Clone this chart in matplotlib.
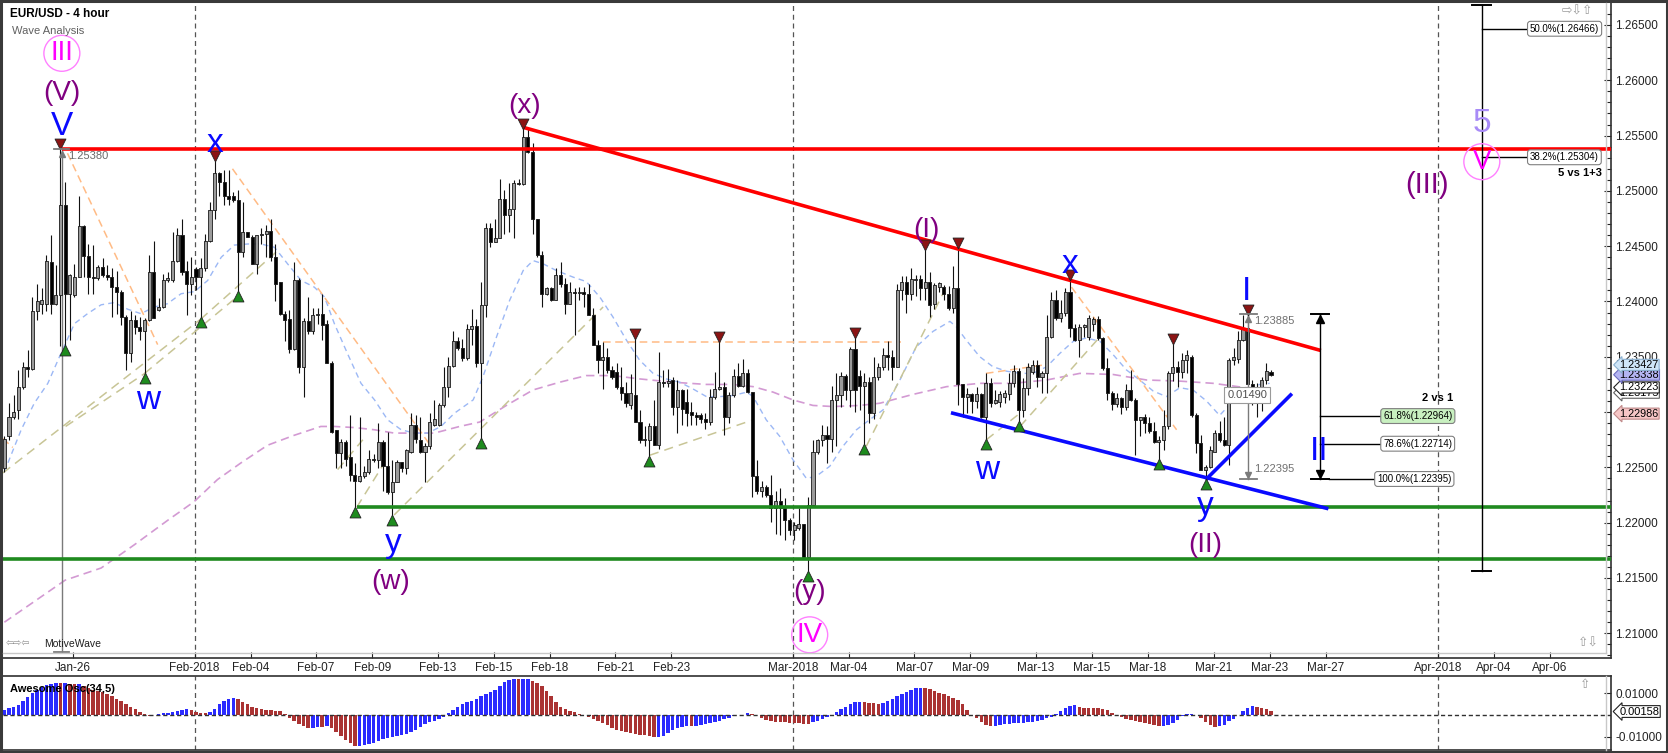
import matplotlib
matplotlib.use("Agg")
import matplotlib.pyplot as plt
import numpy as np
from matplotlib.collections import LineCollection, PolyCollection
from matplotlib.lines import Line2D
from matplotlib.patches import Rectangle
from matplotlib.transforms import blended_transform_factory

plt.rcParams['font.family'] = ['Liberation Sans', 'DejaVu Sans']

# ======================= DATA =======================
# bar index 0 = first 4-hour bar of Thu 1 Feb 2018
first_bar = -41

opens = [
    1.2249, 1.2278, 1.2296, 1.2302, 1.2323, 1.2341, 1.2339, 1.2391, 1.2398, 1.2398,
    1.2436, 1.2398, 1.2406, 1.2487, 1.2407, 1.2406, 1.2422, 1.2468, 1.2441, 1.2422,
    1.2421, 1.2431, 1.2424, 1.2422, 1.2413, 1.2409, 1.2386, 1.2353, 1.2383, 1.2377,
    1.2373, 1.2383, 1.2427, 1.2392, 1.2395, 1.2419, 1.2419, 1.2437, 1.2460, 1.2428,
    1.2416, 1.2429, 1.2422, 1.2430, 1.2455, 1.2483, 1.2516, 1.2508, 1.2495, 1.2495,
    1.2492, 1.2445, 1.2463, 1.2458, 1.2434, 1.2460, 1.2461, 1.2464, 1.2440, 1.2418,
    1.2389, 1.2384, 1.2357, 1.2419, 1.2341, 1.2382, 1.2373, 1.2388, 1.2389, 1.2380,
    1.2344, 1.2284, 1.2263, 1.2273, 1.2259, 1.2243, 1.2238, 1.2242, 1.2246, 1.2258,
    1.2257, 1.2273, 1.2251, 1.2228, 1.2237, 1.2255, 1.2249, 1.2264, 1.2288, 1.2275,
    1.2264, 1.2269, 1.2288, 1.2288, 1.2306, 1.2323, 1.2342, 1.2364, 1.2358, 1.2349,
    1.2375, 1.2378, 1.2344, 1.2397, 1.2466, 1.2454, 1.2457, 1.2493, 1.2478, 1.2484,
    1.2507, 1.2506, 1.2549, 1.2535, 1.2475, 1.2442, 1.2407, 1.2412, 1.2401, 1.2424,
    1.2416, 1.2398, 1.2409, 1.2408, 1.2409, 1.2407, 1.2388, 1.2361, 1.2347, 1.2350,
    1.2338, 1.2336, 1.2323, 1.2317, 1.2306, 1.2315, 1.2291, 1.2275, 1.2275, 1.2287,
    1.2270, 1.2327, 1.2326, 1.2329, 1.2305, 1.2320, 1.2309, 1.2300, 1.2297, 1.2297,
    1.2294, 1.2291, 1.2314, 1.2321, 1.2323, 1.2296, 1.2315, 1.2333, 1.2324, 1.2335,
    1.2318, 1.2242, 1.2229, 1.2232, 1.2225, 1.2213, 1.2220, 1.2213, 1.2202, 1.2193,
    1.2195, 1.2199, 1.2169, 1.2216, 1.2264, 1.2275, 1.2279, 1.2276, 1.2311, 1.2315,
    1.2333, 1.2320, 1.2357, 1.2333, 1.2324, 1.2327, 1.2299, 1.2332, 1.2341, 1.2352,
    1.2350, 1.2341, 1.2410, 1.2418, 1.2407, 1.2419, 1.2420, 1.2412, 1.2418, 1.2398,
    1.2413, 1.2413, 1.2407, 1.2394, 1.2412, 1.2325, 1.2314, 1.2316, 1.2310, 1.2316,
    1.2296, 1.2326, 1.2308, 1.2309, 1.2314, 1.2316, 1.2326, 1.2337, 1.2302, 1.2322,
    1.2336, 1.2343, 1.2332, 1.2335, 1.2368, 1.2401, 1.2385, 1.2390, 1.2409, 1.2376,
    1.2365, 1.2377, 1.2368, 1.2380, 1.2384, 1.2367, 1.2340, 1.2317, 1.2307, 1.2313,
    1.2305, 1.2320, 1.2311, 1.2293, 1.2296, 1.2290, 1.2283, 1.2273, 1.2275, 1.2287,
    1.2335, 1.2341, 1.2336, 1.2347, 1.2350, 1.2297, 1.2272, 1.2248, 1.2250, 1.2264,
    1.2281, 1.2275, 1.2270, 1.2347, 1.2348, 1.2365, 1.2376, 1.2325, 1.2322, 1.2323,
    1.2329, 1.2336,
]
highs = [
    1.2278, 1.2308, 1.2315, 1.2338, 1.2345, 1.2356, 1.2404, 1.2416, 1.2412, 1.2442,
    1.2460, 1.2433, 1.2538, 1.2508, 1.2425, 1.2434, 1.2495, 1.2469, 1.2452, 1.2451,
    1.2433, 1.2439, 1.2433, 1.2430, 1.2428, 1.2410, 1.2388, 1.2391, 1.2388, 1.2386,
    1.2385, 1.2442, 1.2455, 1.2403, 1.2425, 1.2427, 1.2463, 1.2466, 1.2475, 1.2437,
    1.2440, 1.2431, 1.2439, 1.2461, 1.2490, 1.2527, 1.2517, 1.2519, 1.2519, 1.2499,
    1.2501, 1.2490, 1.2463, 1.2460, 1.2460, 1.2466, 1.2469, 1.2475, 1.2452, 1.2418,
    1.2391, 1.2392, 1.2436, 1.2421, 1.2385, 1.2404, 1.2394, 1.2394, 1.2407, 1.2383,
    1.2346, 1.2284, 1.2276, 1.2275, 1.2297, 1.2254, 1.2296, 1.2251, 1.2266, 1.2262,
    1.2290, 1.2275, 1.2282, 1.2257, 1.2257, 1.2255, 1.2267, 1.2299, 1.2297, 1.2296,
    1.2272, 1.2299, 1.2311, 1.2308, 1.2341, 1.2350, 1.2373, 1.2368, 1.2366, 1.2380,
    1.2393, 1.2384, 1.2418, 1.2471, 1.2471, 1.2475, 1.2511, 1.2501, 1.2507, 1.2510,
    1.2511, 1.2556, 1.2556, 1.2543, 1.2475, 1.2446, 1.2413, 1.2413, 1.2430, 1.2436,
    1.2421, 1.2418, 1.2412, 1.2413, 1.2413, 1.2416, 1.2394, 1.2365, 1.2363, 1.2358,
    1.2342, 1.2344, 1.2341, 1.2327, 1.2334, 1.2366, 1.2302, 1.2287, 1.2290, 1.2311,
    1.2354, 1.2338, 1.2339, 1.2332, 1.2329, 1.2321, 1.2321, 1.2309, 1.2300, 1.2299,
    1.2299, 1.2321, 1.2336, 1.2364, 1.2327, 1.2318, 1.2339, 1.2344, 1.2348, 1.2339,
    1.2318, 1.2257, 1.2238, 1.2234, 1.2243, 1.2229, 1.2231, 1.2222, 1.2204, 1.2201,
    1.2213, 1.2199, 1.2223, 1.2275, 1.2276, 1.2288, 1.2287, 1.2324, 1.2335, 1.2336,
    1.2334, 1.2359, 1.2367, 1.2338, 1.2335, 1.2332, 1.2350, 1.2344, 1.2358, 1.2364,
    1.2356, 1.2416, 1.2423, 1.2423, 1.2430, 1.2424, 1.2424, 1.2447, 1.2427, 1.2417,
    1.2418, 1.2415, 1.2414, 1.2432, 1.2449, 1.2325, 1.2322, 1.2317, 1.2323, 1.2317,
    1.2335, 1.2331, 1.2320, 1.2319, 1.2320, 1.2335, 1.2343, 1.2340, 1.2331, 1.2344,
    1.2347, 1.2347, 1.2337, 1.2388, 1.2409, 1.2410, 1.2401, 1.2412, 1.2420, 1.2380,
    1.2380, 1.2380, 1.2388, 1.2386, 1.2387, 1.2368, 1.2349, 1.2319, 1.2317, 1.2314,
    1.2325, 1.2338, 1.2313, 1.2296, 1.2298, 1.2296, 1.2291, 1.2278, 1.2302, 1.2337,
    1.2362, 1.2346, 1.2353, 1.2356, 1.2352, 1.2299, 1.2279, 1.2252, 1.2269, 1.2284,
    1.2292, 1.2296, 1.2349, 1.2358, 1.2373, 1.2388, 1.23885, 1.2329, 1.2326, 1.2332,
    1.2344, 1.2338,
]
lows = [
    1.2246, 1.2275, 1.2294, 1.2294, 1.2321, 1.2332, 1.2338, 1.2383, 1.2389, 1.2391,
    1.2389, 1.2397, 1.2360, 1.2360, 1.2365, 1.2404, 1.2422, 1.2422, 1.2407, 1.2407,
    1.2419, 1.2422, 1.2419, 1.2386, 1.2389, 1.2379, 1.2338, 1.2345, 1.2371, 1.2365,
    1.2335, 1.2382, 1.2385, 1.2391, 1.2394, 1.2418, 1.2418, 1.2436, 1.2424, 1.2388,
    1.2406, 1.2410, 1.2386, 1.2428, 1.2454, 1.2475, 1.2495, 1.2487, 1.2487, 1.2490,
    1.2409, 1.2440, 1.2458, 1.2434, 1.2425, 1.2452, 1.2440, 1.2437, 1.2400, 1.2388,
    1.2364, 1.2353, 1.2356, 1.2335, 1.2314, 1.2371, 1.2371, 1.2380, 1.2365, 1.2344,
    1.2281, 1.2249, 1.2249, 1.2251, 1.2238, 1.2214, 1.2237, 1.2240, 1.2244, 1.2255,
    1.2249, 1.2229, 1.2226, 1.2207, 1.2237, 1.2246, 1.2244, 1.2263, 1.2272, 1.2263,
    1.2237, 1.2267, 1.2287, 1.2287, 1.2305, 1.2314, 1.2341, 1.2356, 1.2346, 1.2347,
    1.2361, 1.2341, 1.2276, 1.2386, 1.2449, 1.2454, 1.2457, 1.2461, 1.2463, 1.2457,
    1.2505, 1.2505, 1.2534, 1.2461, 1.2440, 1.2395, 1.2406, 1.2400, 1.2401, 1.2413,
    1.2389, 1.2398, 1.2370, 1.2401, 1.2395, 1.2388, 1.2361, 1.2335, 1.2321, 1.2335,
    1.2330, 1.2321, 1.2311, 1.2305, 1.2303, 1.2291, 1.2272, 1.2269, 1.2260, 1.2270,
    1.2267, 1.2323, 1.2323, 1.2297, 1.2281, 1.2288, 1.2287, 1.2288, 1.2288, 1.2290,
    1.2285, 1.2288, 1.2312, 1.2320, 1.2279, 1.2290, 1.2314, 1.2323, 1.2323, 1.2317,
    1.2223, 1.2226, 1.2223, 1.2223, 1.2201, 1.2190, 1.2189, 1.2184, 1.2189, 1.2184,
    1.2193, 1.2169, 1.2156, 1.2214, 1.2262, 1.2269, 1.2254, 1.2264, 1.2269, 1.2305,
    1.2311, 1.2305, 1.2300, 1.2302, 1.2271, 1.2290, 1.2294, 1.2329, 1.2338, 1.2338,
    1.2329, 1.2341, 1.2401, 1.2390, 1.2401, 1.2405, 1.2401, 1.2401, 1.2386, 1.2393,
    1.2409, 1.2401, 1.2392, 1.2390, 1.2306, 1.2296, 1.2299, 1.2299, 1.2304, 1.2295,
    1.2275, 1.2305, 1.2307, 1.2305, 1.2308, 1.2311, 1.2323, 1.2292, 1.2296, 1.2315,
    1.2334, 1.2323, 1.2317, 1.2317, 1.2367, 1.2383, 1.2381, 1.2387, 1.2368, 1.2364,
    1.2350, 1.2368, 1.2365, 1.2373, 1.2365, 1.2338, 1.2311, 1.2302, 1.2305, 1.2298,
    1.2302, 1.2310, 1.2261, 1.2278, 1.2281, 1.2281, 1.2272, 1.2257, 1.2266, 1.2285,
    1.2328, 1.2323, 1.2331, 1.2335, 1.2296, 1.2263, 1.2248, 1.22395, 1.2249, 1.2264,
    1.2273, 1.2269, 1.2252, 1.2343, 1.2344, 1.2364, 1.2325, 1.2306, 1.2296, 1.2301,
    1.2325, 1.2333,
]
closes = [
    1.2276, 1.2296, 1.2300, 1.2323, 1.2341, 1.2339, 1.2391, 1.2400, 1.2401, 1.2437,
    1.2398, 1.2406, 1.2487, 1.2407, 1.2424, 1.2422, 1.2468, 1.2441, 1.2422, 1.2421,
    1.2431, 1.2424, 1.2422, 1.2413, 1.2409, 1.2386, 1.2353, 1.2383, 1.2377, 1.2373,
    1.2383, 1.2427, 1.2385, 1.2395, 1.2419, 1.2421, 1.2437, 1.2460, 1.2427, 1.2416,
    1.2422, 1.2422, 1.2430, 1.2455, 1.2483, 1.2516, 1.2508, 1.2495, 1.2493, 1.2492,
    1.2445, 1.2463, 1.2458, 1.2434, 1.2460, 1.2461, 1.2464, 1.2440, 1.2416, 1.2389,
    1.2383, 1.2357, 1.2419, 1.2341, 1.2382, 1.2373, 1.2388, 1.2389, 1.2379, 1.2344,
    1.2282, 1.2263, 1.2273, 1.2258, 1.2243, 1.2238, 1.2242, 1.2246, 1.2258, 1.2257,
    1.2273, 1.2251, 1.2228, 1.2237, 1.2255, 1.2249, 1.2266, 1.2288, 1.2276, 1.2264,
    1.2269, 1.2291, 1.2294, 1.2306, 1.2323, 1.2342, 1.2364, 1.2358, 1.2349, 1.2375,
    1.2378, 1.2344, 1.2397, 1.2466, 1.2454, 1.2457, 1.2493, 1.2478, 1.2484, 1.2507,
    1.2506, 1.2549, 1.2535, 1.2475, 1.2442, 1.2407, 1.2412, 1.2401, 1.2424, 1.2416,
    1.2398, 1.2409, 1.2408, 1.2409, 1.2407, 1.2388, 1.2361, 1.2347, 1.2350, 1.2338,
    1.2332, 1.2323, 1.2317, 1.2308, 1.2317, 1.2291, 1.2275, 1.2276, 1.2287, 1.2270,
    1.2327, 1.2326, 1.2328, 1.2305, 1.2320, 1.2303, 1.2299, 1.2297, 1.2296, 1.2294,
    1.2291, 1.2314, 1.2321, 1.2323, 1.2296, 1.2315, 1.2333, 1.2324, 1.2335, 1.2318,
    1.2242, 1.2229, 1.2232, 1.2225, 1.2213, 1.2220, 1.2213, 1.2202, 1.2193, 1.2198,
    1.2199, 1.2169, 1.2216, 1.2264, 1.2275, 1.2279, 1.2276, 1.2311, 1.2315, 1.2333,
    1.2320, 1.2357, 1.2320, 1.2324, 1.2327, 1.2299, 1.2332, 1.2341, 1.2352, 1.2350,
    1.2341, 1.2410, 1.2418, 1.2407, 1.2420, 1.2420, 1.2412, 1.2418, 1.2397, 1.2415,
    1.2417, 1.2407, 1.2394, 1.2412, 1.2325, 1.2314, 1.2316, 1.2310, 1.2316, 1.2296,
    1.2326, 1.2308, 1.2311, 1.2316, 1.2317, 1.2326, 1.2337, 1.2302, 1.2322, 1.2341,
    1.2343, 1.2332, 1.2335, 1.2368, 1.2401, 1.2385, 1.2390, 1.2409, 1.2376, 1.2365,
    1.2377, 1.2379, 1.2385, 1.2384, 1.2367, 1.2340, 1.2317, 1.2307, 1.2313, 1.2305,
    1.2320, 1.2311, 1.2293, 1.2296, 1.2290, 1.2283, 1.2273, 1.2275, 1.2287, 1.2335,
    1.2341, 1.2336, 1.2347, 1.2352, 1.2297, 1.2272, 1.2248, 1.2250, 1.2266, 1.2281,
    1.2275, 1.2270, 1.2347, 1.2350, 1.2365, 1.2376, 1.2325, 1.2322, 1.2323, 1.2329,
    1.2337, 1.23338,
]
ao_values = [
    0.0023, 0.0031, 0.0038, 0.0046, 0.0065, 0.0082, 0.0102, 0.0115, 0.0126, 0.0137,
    0.0142, 0.0145, 0.0145, 0.0146, 0.0143, 0.0139, 0.0140, 0.0131, 0.0125, 0.0115,
    0.0108, 0.0103, 0.0095, 0.0085, 0.0072, 0.0063, 0.0049, 0.0037, 0.0026, 0.0014,
    0.0003, -0.0005, 0.0002, 0.0005, 0.0008, 0.0011, 0.0015, 0.0018, 0.0025, 0.0026,
    0.0023, 0.0015, 0.0011, 0.0008, 0.0014, 0.0029, 0.0049, 0.0063, 0.0072, 0.0079,
    0.0075, 0.0060, 0.0048, 0.0038, 0.0032, 0.0028, 0.0025, 0.0023, 0.0020, 0.0017,
    0.0005, -0.0012, -0.0028, -0.0042, -0.0052, -0.0059, -0.0057, -0.0055, -0.0056, -0.0052,
    -0.0059, -0.0079, -0.0097, -0.0112, -0.0129, -0.0140, -0.0139, -0.0137, -0.0132, -0.0128,
    -0.0120, -0.0111, -0.0106, -0.0102, -0.0097, -0.0092, -0.0088, -0.0079, -0.0066, -0.0054,
    -0.0042, -0.0034, -0.0026, -0.0017, -0.0008, 0.0008, 0.0023, 0.0038, 0.0048, 0.0057,
    0.0065, 0.0075, 0.0085, 0.0094, 0.0103, 0.0115, 0.0134, 0.0152, 0.0160, 0.0162,
    0.0162, 0.0163, 0.0165, 0.0156, 0.0145, 0.0131, 0.0111, 0.0088, 0.0060, 0.0038,
    0.0029, 0.0020, 0.0014, 0.0005, -0.0002, -0.0008, -0.0017, -0.0026, -0.0035, -0.0045,
    -0.0057, -0.0066, -0.0072, -0.0079, -0.0083, -0.0086, -0.0089, -0.0092, -0.0097, -0.0100,
    -0.0099, -0.0094, -0.0082, -0.0069, -0.0060, -0.0054, -0.0051, -0.0052, -0.0048, -0.0045,
    -0.0042, -0.0035, -0.0031, -0.0025, -0.0020, -0.0014, -0.0006, -0.0002, 0.0002, 0.0008,
    0.0005, -0.0002, -0.0014, -0.0023, -0.0028, -0.0031, -0.0032, -0.0034, -0.0035, -0.0037,
    -0.0038, -0.0040, -0.0041, -0.0032, -0.0026, -0.0017, -0.0008, 0.0000, 0.0014, 0.0026,
    0.0038, 0.0048, 0.0057, 0.0058, 0.0057, 0.0055, 0.0054, 0.0052, 0.0054, 0.0065,
    0.0075, 0.0085, 0.0095, 0.0106, 0.0115, 0.0122, 0.0123, 0.0122, 0.0117, 0.0109,
    0.0100, 0.0094, 0.0088, 0.0079, 0.0068, 0.0050, 0.0025, 0.0002, -0.0015, -0.0032,
    -0.0046, -0.0049, -0.0048, -0.0045, -0.0042, -0.0040, -0.0038, -0.0037, -0.0036, -0.0034,
    -0.0031, -0.0026, -0.0022, -0.0014, -0.0008, 0.0003, 0.0018, 0.0032, 0.0042, 0.0045,
    0.0038, 0.0034, 0.0032, 0.0032, 0.0031, 0.0029, 0.0023, 0.0008, -0.0002, -0.0009,
    -0.0017, -0.0023, -0.0029, -0.0032, -0.0035, -0.0040, -0.0046, -0.0051, -0.0050, -0.0046,
    -0.0035, -0.0023, -0.0005, 0.0003, 0.0004, -0.0002, -0.0014, -0.0032, -0.0046, -0.0055,
    -0.0052, -0.0045, -0.0029, -0.0017, -0.0002, 0.0018, 0.0034, 0.0040, 0.0038, 0.0032,
    0.0026, 0.0016,
]

# fast moving average (light blue dashed), read at bar positions
blue_ma_bar = [-41, -37.4, -34.6, -31.7, -28.9, -26, -23.2, -20.3, -17.5, -14.6, -11.8, -8.9,
               -6.1, -3.2, -0.3, 2.5, 5.4, 8.2, 11.1, 13.9, 16.8, 19.6, 22.5, 25.3, 27.5,
               29.6, 32.4, 35.3, 38.2, 41, 43.9, 46.7, 49.6, 52.4, 55.3, 59.3, 61.4, 64.3,
               67.1, 70, 72.1, 74.3, 77.1, 80.7, 83.5, 86.4, 89.2, 92.1, 94.9, 97.8, 100.6,
               103.5, 106.3, 109.2, 112.1, 114.9, 117.8, 119.2, 122, 124.9, 127.7, 130.6,
               132.7, 135.6, 138.4, 141.3, 144.1, 147, 150.6, 154.1, 157.7, 161.3, 162.7,
               164.8, 167.7, 170.5, 173.4, 176.3, 179.1, 182, 184.8, 187.7, 190.5, 193.4,
               196.2, 199.1, 201.9, 204.8, 207.6, 210.5, 213.3, 216.2, 219.0, 221.9, 224.7,
               227.6, 229.7]
blue_ma = [1.2246, 1.2284, 1.2308, 1.2326, 1.2353, 1.2380, 1.2389, 1.2397, 1.2399, 1.2393,
           1.2389, 1.2395, 1.2398, 1.2407, 1.2409, 1.2419, 1.2440, 1.2451, 1.2452, 1.2452,
           1.2449, 1.2434, 1.2419, 1.2413, 1.2404, 1.2380, 1.2353, 1.2326, 1.2311, 1.2293,
           1.2284, 1.2281, 1.2281, 1.2287, 1.2299, 1.2311, 1.2332, 1.2368, 1.2401, 1.2428,
           1.2437, 1.2434, 1.2428, 1.2422, 1.2418, 1.2404, 1.2386, 1.2365, 1.2347, 1.2335,
           1.2330, 1.2327, 1.2321, 1.2314, 1.2314, 1.2315, 1.2318, 1.2314, 1.2293, 1.2278,
           1.2257, 1.2240, 1.2242, 1.2251, 1.2269, 1.2284, 1.2293, 1.2302, 1.2329, 1.2359,
           1.2373, 1.2382, 1.2377, 1.2365, 1.2350, 1.2341, 1.2337, 1.2335, 1.2335, 1.2341,
           1.2353, 1.2364, 1.2367, 1.2364, 1.2352, 1.2338, 1.2329, 1.2319, 1.2314, 1.2322,
           1.2320, 1.2310, 1.2297, 1.2310, 1.2320, 1.2325, 1.2326]

# slow moving average (lilac dashed)
purple_ma_bar = [-41, -28, -20.3, -13.2, -6.1, -0.4, 4.6, 9.6, 15.3, 21, 26.7, 29.6, 33.9,
                 38.2, 42.4, 46.7, 51, 56.4, 60.7, 66.4, 72.1, 77.8, 83.5, 89.2, 94.9,
                 102.1, 109.2, 114.9, 119.2, 123.5, 127.7, 132, 136.3, 142, 146.3, 153.4,
                 160.6, 167.7, 174.8, 182, 189.1, 196.2, 203.4, 210.5, 217.6, 224.7, 229]
purple_ma = [1.2110, 1.2148, 1.2159, 1.2180, 1.2202, 1.2219, 1.2239, 1.2254, 1.2270, 1.2279,
             1.2287, 1.2287, 1.2286, 1.2284, 1.2281, 1.2281, 1.2281, 1.2287, 1.2291, 1.2306,
             1.2320, 1.2327, 1.2333, 1.2333, 1.2330, 1.2327, 1.2325, 1.2325, 1.2323, 1.2318,
             1.2311, 1.2306, 1.2305, 1.2306, 1.2308, 1.2316, 1.2323, 1.2326, 1.2326, 1.2329,
             1.2335, 1.2334, 1.2329, 1.2328, 1.2326, 1.2322, 1.2322]

tick_bars = [-26, 0, 12, 26, 38, 52, 64, 76, 90, 102, 128, 140, 154, 166, 180, 192, 204,
             218, 230, 242, 266, 278, 290]
tick_labels = ["Jan-26", "Feb-2018", "Feb-04", "Feb-07", "Feb-09", "Feb-13", "Feb-15",
               "Feb-18", "Feb-21", "Feb-23", "Mar-2018", "Mar-04", "Mar-07", "Mar-09",
               "Mar-13", "Mar-15", "Mar-18", "Mar-21", "Mar-23", "Mar-27", "Apr-2018",
               "Apr-04", "Apr-06"]
month_bars = [0, 128, 266]

swing_high_bars = [-29, 4, 70, 94, 112, 141, 156, 163, 187, 209, 225]
swing_low_bars = [-28, -11, 1, 9, 34, 42, 61, 97, 131, 143, 169, 176, 206, 216]

resistance_level = 1.2538
support_levels = [1.22145, 1.21672]
red_trend_bars = [70.4, 240.3]
red_trend_prices = [1.2557, 1.23561]
blue_channel_bars = [161.9, 241.9]
blue_channel_prices = [1.2299, 1.2213]
blue_rise_bars = [216.3, 234.2]
blue_rise_prices = [1.2240, 1.23155]

orange_segments = [((-41.3, 1.2276), (-39.2, 1.2268)), ((-27.5, 1.2534), (-8.2, 1.2361)),
                   ((7.8, 1.2520), (50.3, 1.2269)), ((87.1, 1.2363), (150.8, 1.2363)),
                   ((169.0, 1.2335), (182.0, 1.2343)), ((187.3, 1.2413), (209.8, 1.2284))]
olive_segments = [((-41.3, 1.2245), (1.0, 1.2384)), ((1.0, 1.2384), (17.5, 1.2446)),
                  ((-27.9, 1.2287), (-10.6, 1.2336)), ((-11.0, 1.2335), (9.3, 1.2406)),
                  ((30.3, 1.2248), (35.7, 1.2275)), ((34.4, 1.2214), (40.3, 1.2254)),
                  ((42.4, 1.2207), (87.1, 1.2395)), ((97.1, 1.2261), (119.2, 1.2293)),
                  ((143.4, 1.2269), (159.8, 1.2407)), ((169.1, 1.2275), (176.3, 1.2299)),
                  ((176.3, 1.2287), (193.4, 1.2368))]

wave1_high, wave1_low = 1.23885, 1.22395
fib_ratios = ["61.8%", "78.6%", "100.0%"]
fib_levels = [1.22964, 1.22714, 1.22395]
ext_ratios = ["50.0%", "38.2%"]
ext_levels = [1.26466, 1.25304]
axis_value_labels = [1.23175, 1.23223, 1.23338, 1.23427, 1.22986]
ao_last = 0.00158

# ======================= LAYOUT =======================
W, H = 1668, 753
fig = plt.figure(figsize=(W / 100, H / 100), dpi=100)
fig.patch.set_facecolor("white")


def fx(p):
    return p / W


def fy(p):
    return 1 - p / H


def rect(x0, y0, x1, y1):
    return [fx(x0), fy(y1), fx(x1) - fx(x0), fy(y0) - fy(y1)]


BAR0_PX, BAR_W = 196.0, 4.674
XL = ((3 - BAR0_PX) / BAR_W, (1611 - BAR0_PX) / BAR_W)

ax = fig.add_axes(rect(3, 3, 1611, 658))
axo = fig.add_axes(rect(3, 676, 1611, 750))
for a in (ax, axo):
    a.set_xlim(*XL)
    a.set_facecolor("white")
    a.spines["left"].set_visible(False)
    for s in ("right", "bottom", "top"):
        a.spines[s].set_color("#303030")
        a.spines[s].set_linewidth(1.2)
ax.spines["top"].set_visible(False)
ax.set_ylim(1.207764, 1.266989)
axo.set_ylim(-0.01591, 0.01773)

BLUE = "#0A0AFF"
PURPLE = "#800080"
MAGENTA = "#FF00FF"

# ---- month separators ----
for mb in month_bars:
    for a in (ax, axo):
        a.axvline(mb - 0.3, color="#555555", lw=0.9, ls=(0, (4, 3)), zorder=1)

# ---- moving averages ----
ax.plot(purple_ma_bar, purple_ma, color="#D39AD3", lw=1.2, ls=(0, (5, 3)), zorder=2)
ax.plot(blue_ma_bar, blue_ma, color="#9CB8F5", lw=1.0, ls=(0, (4, 3)), zorder=2)
for (p0, p1) in orange_segments:
    ax.plot([p0[0], p1[0]], [p0[1], p1[1]], color="#FFBB85", lw=1.1, ls=(0, (5, 3)), zorder=2)
for (p0, p1) in olive_segments:
    ax.plot([p0[0], p1[0]], [p0[1], p1[1]], color="#C8C596", lw=1.1, ls=(0, (6, 4)), zorder=2)

# ---- candles ----
o = np.array(opens)
hi = np.array(highs)
lo = np.array(lows)
cl = np.array(closes)
bars = np.arange(first_bar, first_bar + len(cl))
up = cl >= o
top = np.maximum(o, cl)
bot = np.minimum(o, cl)
wicks = [[(b, min(l, bt)), (b, max(h, t))] for b, l, h, bt, t in zip(bars, lo, hi, bot, top)]
ax.add_collection(LineCollection(wicks, colors="#111111", linewidths=0.8, zorder=4))
hw = 0.33
bodies = [[(b - hw, bt), (b + hw, bt), (b + hw, max(t, bt + 0.00004)), (b - hw, max(t, bt + 0.00004))]
          for b, bt, t in zip(bars, bot, top)]
faces = ["#9b9b9b" if u else "#000000" for u in up]
ax.add_collection(PolyCollection(bodies, facecolors=faces, edgecolors="#1a1a1a",
                                 linewidths=0.6, zorder=5))

# ---- swing markers ----
hx = [b for b in swing_high_bars]
hy = [hi[b - first_bar] + 0.00042 for b in swing_high_bars]
ax.scatter(hx, hy, marker="v", s=62, c="#8B1414", edgecolors="#222222", linewidths=0.6, zorder=7)
lx = [b for b in swing_low_bars]
ly = [lo[b - first_bar] - 0.00042 for b in swing_low_bars]
ax.scatter(lx, ly, marker="^", s=62, c="#1E8B1E", edgecolors="#222222", linewidths=0.6, zorder=7)

# ---- horizontal / trend lines ----
ax.plot([-28.7, XL[1]], [resistance_level] * 2, color="#FF0000", lw=2.6, zorder=6, solid_capstyle="butt")
ax.plot([34.4, XL[1]], [support_levels[0]] * 2, color="#1F8A1F", lw=2.6, zorder=6, solid_capstyle="butt")
ax.plot([XL[0], XL[1]], [support_levels[1]] * 2, color="#1F8A1F", lw=2.6, zorder=6, solid_capstyle="butt")
ax.plot(red_trend_bars, red_trend_prices, color="#FF0000", lw=2.6, zorder=6)
ax.plot(blue_channel_bars, blue_channel_prices, color="#0A0AFF", lw=2.6, zorder=6)
ax.plot(blue_rise_bars, blue_rise_prices, color="#0A0AFF", lw=2.6, zorder=6)

# ---- measurement: V top ----
GREY = "#7a7a7a"
mx = -28.7
ax.plot([mx, mx], [resistance_level, 1.2083], color=GREY, lw=1.0, zorder=3)
ax.plot([mx - 1.6, mx + 1.6], [resistance_level] * 2, color=GREY, lw=1.3, zorder=7)
ax.plot([mx - 1.6, mx + 1.6], [1.2083] * 2, color=GREY, lw=1.3, zorder=7)
ax.plot([mx], [resistance_level - 0.00045], marker="^", ms=5, color=GREY, zorder=7)
ax.text(mx + 1.4, 1.25316, "1.25380", color="#6a6a6a", fontsize=8, ha="left", va="center", zorder=8)

# ---- measurement: wave I length ----
m2 = 225.1
ax.plot([m2, m2], [wave1_low, wave1_high], color=GREY, lw=1.0, zorder=6)
for lv in (wave1_low, wave1_high):
    ax.plot([m2 - 1.8, m2 + 1.8], [lv, lv], color=GREY, lw=1.3, zorder=7)
ax.plot([m2], [wave1_high - 0.0004], marker="^", ms=5, color=GREY, zorder=7)
ax.plot([m2], [wave1_low + 0.0004], marker="v", ms=5, color=GREY, zorder=7)
ax.text(m2 + 1.3, wave1_high - 0.00065, "%.5f" % wave1_high, color="#707070", fontsize=8,
        ha="left", va="center", zorder=8)
ax.text(m2 + 1.3, wave1_low + 0.0009, "%.5f" % wave1_low, color="#707070", fontsize=8,
        ha="left", va="center", zorder=8)
ax.text(224.9, 1.23155, "%.5f" % (wave1_high - wave1_low), color="#505050", fontsize=8,
        ha="center", va="center", zorder=9,
        bbox=dict(boxstyle="square,pad=0.25", fc="white", ec="#9a9a9a", lw=0.8))

# ---- measurement: wave II retracement ----
m3 = 240.4
ax.plot([m3, m3], [wave1_low, wave1_high], color="black", lw=1.0, zorder=6)
for lv in (wave1_low, wave1_high):
    ax.plot([m3 - 1.9, m3 + 1.9], [lv, lv], color="black", lw=1.4, zorder=7)
ax.plot([m3], [wave1_high - 0.00045], marker="^", ms=6, color="black", zorder=7)
ax.plot([m3], [wave1_low + 0.00045], marker="v", ms=6, color="black", zorder=7)
fib_box_x = [253.6, 253.6, 252.3]
fib_face = ["#C8F0C0", "white", "white"]
for r, lv, bx, fc in zip(fib_ratios, fib_levels, fib_box_x, fib_face):
    x_start = m3 if r != "100.0%" else m3 + 1.9
    ax.plot([x_start, bx], [lv, lv], color="black", lw=1.0, zorder=6)
    ax.text(bx + 0.4, lv, "%s(%.5f)" % (r, lv), fontsize=7, ha="left", va="center", zorder=9,
            bbox=dict(boxstyle="round,pad=0.25,rounding_size=0.3", fc=fc, ec="#808080", lw=0.8))
ax.text(268.9, 1.23125, "2 vs 1", fontsize=8, fontweight="bold", ha="right", va="center", zorder=9)

# ---- measurement: wave V projection ----
m4 = 275.1
ax.plot([m4, m4], [1.21563, 1.2668], color="black", lw=1.0, zorder=6)
ax.plot([m4 - 2, m4 + 2], [1.2668] * 2, color="black", lw=1.4, zorder=7)
ax.plot([m4 - 2, m4 + 2], [1.21563] * 2, color="black", lw=1.4, zorder=7)
for r, lv in zip(ext_ratios, ext_levels):
    ax.plot([m4, 285.0], [lv, lv], color="black", lw=1.0, zorder=6)
    ax.text(285.4, lv, "%s(%.5f)" % (r, lv), fontsize=7, ha="left", va="center", zorder=9,
            bbox=dict(boxstyle="round,pad=0.25,rounding_size=0.3", fc="white", ec="#808080", lw=0.8))
ax.text(300.8, 1.25162, "5 vs 1+3", fontsize=8, fontweight="bold", ha="right", va="center", zorder=9)

# ---- wave labels ----
def circled(x, y, txt, size=20):
    ax.scatter([x], [y], s=670, facecolors="none", edgecolors="#FF80FF", linewidths=1.0, zorder=8)
    ax.text(x, y, txt, color=MAGENTA, fontsize=size, ha="center", va="center", zorder=9)


circled(-28.7, 1.26244, "III")
circled(131.3, 1.20986, "IV")
circled(275.1, 1.25264, "V")

labels = [
    ("V", -28.7, 1.2558, BLUE, 24), ("(V)", -28.7, 1.25882, PURPLE, 20),
    ("x", 4.1, 1.2543, BLUE, 24), ("w", -10.2, 1.23109, BLUE, 24),
    ("(x)", 70.4, 1.25768, PURPLE, 20), ("y", 42.1, 1.21813, BLUE, 24),
    ("(w)", 41.7, 1.2146, PURPLE, 20), ("(y)", 131.3, 1.21373, PURPLE, 20),
    ("(I)", 156.3, 1.24646, PURPLE, 20), ("w", 169.2, 1.22476, BLUE, 24),
    ("x", 187.0, 1.2433, BLUE, 24), ("I", 224.8, 1.24089, BLUE, 24),
    ("y", 215.9, 1.22145, BLUE, 24), ("(II)", 215.9, 1.21798, PURPLE, 20),
    ("II", 240.3, 1.22642, BLUE, 24), ("(III)", 263.3, 1.25053, PURPLE, 21),
    ("5", 275.1, 1.25611, "#A88BF7", 24),
]
for t, x, y, c, s in labels:
    ax.text(x, y, t, color=c, fontsize=s, ha="center", va="center", zorder=9)

# ---- axes ticks ----
ax.yaxis.tick_right()
ax.set_yticks(np.arange(1.210, 1.2651, 0.005))
ax.set_yticklabels(["%.5f" % v for v in np.arange(1.210, 1.2651, 0.005)])
ax.set_yticks(np.arange(1.208, 1.2670, 0.001), minor=True)
ax.tick_params(axis="y", which="major", direction="in", length=5, width=0.8, pad=3,
               labelsize=8.5, colors="#222222")
ax.tick_params(axis="y", which="minor", direction="in", length=3, width=0.8, colors="#222222")
ax.set_xticks([b - 0.3 for b in tick_bars])
ax.set_xticklabels(tick_labels)
ax.tick_params(axis="x", direction="in", length=4, width=0.8, pad=3, labelsize=8.5, colors="#222222")

axo.yaxis.tick_right()
axo.set_yticks([0.01, -0.01])
axo.set_yticklabels(["0.01000", "-0.01000"])
axo.tick_params(axis="y", direction="in", length=5, width=0.8, pad=3, labelsize=8.5, colors="#222222")
axo.set_xticks([])

# ---- awesome oscillator ----
aov = np.array(ao_values)
abars = np.arange(first_bar, first_bar + len(aov))
prev = np.concatenate([[aov[0] - 1.0], aov[:-1]])
acol = ["#2B2BFF" if v > p else "#AA3333" for v, p in zip(aov, prev)]
axo.bar(abars, aov, width=0.74, color=acol, zorder=2)
axo.axhline(0, color="#303030", lw=1.0, ls=(0, (3, 2)), zorder=3)

# ---- right axis value boxes (compact, stacked like the reference) ----
trans = blended_transform_factory(ax.transAxes, ax.transData)
box_styles = {1.23175: ("white", "#606060"), 1.23223: ("white", "#202020"),
              1.23338: ("#B4B4F2", "#6C6CC0"), 1.23427: ("#CFE6F8", "#8AB0D0"),
              1.22986: ("#F6C6C6", "#C08A8A")}
for v in axis_value_labels:
    fc, ec = box_styles[v]
    ax.annotate("%.5f" % v, xy=(1.0, v), xycoords=trans, xytext=(6, 0), textcoords="offset points",
                ha="left", va="center", fontsize=7.8, annotation_clip=False, zorder=20,
                bbox=dict(boxstyle="larrow,pad=0.05", fc=fc, ec=ec, lw=0.8))
transo = blended_transform_factory(axo.transAxes, axo.transData)
axo.annotate("%.5f" % ao_last, xy=(1.0, ao_last), xycoords=transo, xytext=(6, 0),
             textcoords="offset points", ha="left", va="center", fontsize=8,
             annotation_clip=False, zorder=20,
             bbox=dict(boxstyle="larrow,pad=0.08", fc="white", ec="#202020", lw=0.8))

# ---- frame decorations ----
for (x0, y0, x1, y1) in [(1606, 3, 1606, 653), (3, 653, 1606, 653), (1606, 676, 1606, 750)]:
    fig.add_artist(Line2D([fx(x0), fx(x1)], [fy(y0), fy(y1)], color="#C8C8C8", lw=1.0))
fig.add_artist(Rectangle((0.0006, 0.0013), 0.9988, 0.9974, transform=fig.transFigure,
                         fill=False, ec="#3a3a3a", lw=2.2))

# ---- titles / captions ----
fig.text(fx(10), fy(14), "EUR/USD - 4 hour", fontsize=8.5, fontweight="bold", va="center", ha="left")
fig.text(fx(12), fy(31), "Wave Analysis", fontsize=8, color="#606060", va="center", ha="left")
fig.text(fx(10), fy(689), "Awesome Osc(34,5)", fontsize=8, fontweight="bold", va="center", ha="left")
fig.text(fx(6), fy(644), "\u21e6\u21e8\u21e6", fontsize=7, color="#909090", va="center", ha="left",
         family=["DejaVu Sans"])
fig.text(fx(44), fy(644), "MotiveWave", fontsize=7.5, color="#202020", va="center", ha="left")
fig.text(fx(1562), fy(11), "\u21e8\u21e9\u21e7", fontsize=9, color="#9a9a9a", va="center", ha="left",
         family=["DejaVu Sans"])
fig.text(fx(1578), fy(643), "\u21e7\u21e9", fontsize=9, color="#9a9a9a", va="center", ha="left",
         family=["DejaVu Sans"])
fig.text(fx(1580), fy(684), "\u21e7", fontsize=9, color="#9a9a9a", va="center", ha="left",
         family=["DejaVu Sans"])

fig.savefig("out.png", dpi=100, facecolor="white")
